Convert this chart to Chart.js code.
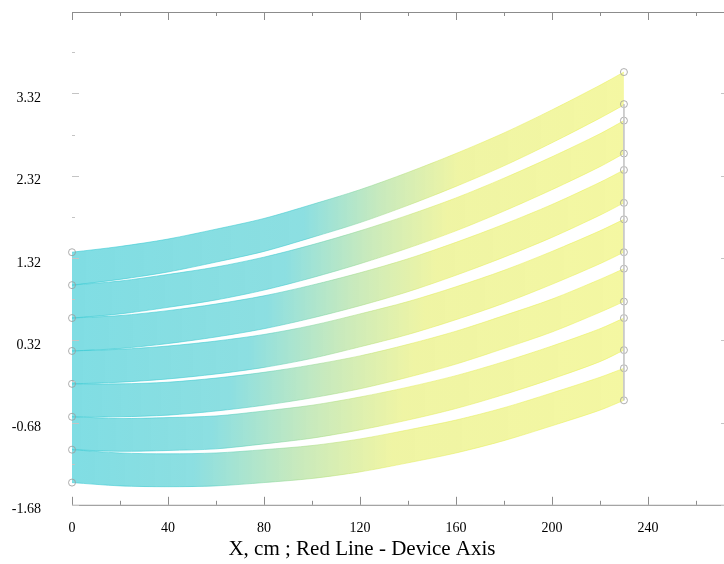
<!DOCTYPE html>
<html>
<head>
<meta charset="utf-8">
<script src="https://cdn.jsdelivr.net/npm/chart.js@4/dist/chart.umd.min.js"></script>
<style>
  html, body { margin: 0; padding: 0; background: #fff; overflow: hidden; }
  #wrap { width: 724px; height: 564px; }
</style>
</head>
<body>
<div id="wrap"><canvas id="chart-rays"></canvas></div>
<script>
const xCm = [0, 20, 40, 60, 80, 100, 120, 140, 160, 180, 200, 220, 230];

// upper / lower edge of each ray band, top band first
const band0Top = [1.39, 1.46, 1.55, 1.67, 1.80, 1.97, 2.15, 2.36, 2.59, 2.84, 3.12, 3.42, 3.58];
const band0Bot = [0.99, 1.06, 1.15, 1.27, 1.40, 1.57, 1.75, 1.96, 2.19, 2.44, 2.72, 3.02, 3.18];
const band1Top = [0.99, 1.04, 1.12, 1.21, 1.33, 1.48, 1.65, 1.84, 2.05, 2.29, 2.55, 2.83, 2.99];
const band1Bot = [0.59, 0.64, 0.72, 0.81, 0.93, 1.08, 1.25, 1.44, 1.65, 1.89, 2.15, 2.43, 2.59];
const band2Top = [0.59, 0.62, 0.68, 0.76, 0.86, 0.99, 1.14, 1.31, 1.51, 1.73, 1.97, 2.24, 2.39];
const band2Bot = [0.19, 0.22, 0.28, 0.36, 0.46, 0.59, 0.74, 0.91, 1.11, 1.33, 1.57, 1.84, 1.99];
const band3Top = [0.19, 0.21, 0.25, 0.31, 0.39, 0.50, 0.64, 0.79, 0.97, 1.17, 1.40, 1.65, 1.79];
const band3Bot = [-0.21, -0.19, -0.15, -0.09, -0.01, 0.10, 0.24, 0.39, 0.57, 0.77, 1.00, 1.25, 1.39];
const band4Top = [-0.21, -0.21, -0.19, -0.14, -0.07, 0.02, 0.13, 0.27, 0.43, 0.62, 0.82, 1.06, 1.19];
const band4Bot = [-0.61, -0.61, -0.59, -0.54, -0.47, -0.38, -0.27, -0.13, 0.03, 0.22, 0.42, 0.66, 0.79];
const band5Top = [-0.61, -0.63, -0.62, -0.60, -0.54, -0.47, -0.37, -0.25, -0.11, 0.06, 0.25, 0.46, 0.59];
const band5Bot = [-1.01, -1.03, -1.02, -1.00, -0.94, -0.87, -0.77, -0.65, -0.51, -0.34, -0.15, 0.06, 0.20];
const band6Top = [-1.01, -1.05, -1.06, -1.05, -1.01, -0.96, -0.88, -0.77, -0.65, -0.50, -0.32, -0.13, -0.02];
const band6Bot = [-1.41, -1.45, -1.46, -1.45, -1.41, -1.36, -1.28, -1.17, -1.05, -0.90, -0.72, -0.53, -0.41];

// source / target points (circles)
const leftPtsY = [1.39, 0.99, 0.59, 0.19, -0.21, -0.61, -1.01, -1.41];
const rightPtsY = [3.58, 3.19, 2.99, 2.59, 2.39, 1.99, 1.79, 1.39, 1.19, 0.79, 0.59, 0.20, -0.02, -0.41];
const screenX = 230;

// axes
const xTicks = [0, 40, 80, 120, 160, 200, 240];
const xMinorTicks = [20, 60, 100, 140, 180, 220, 260];
const yTicks = [-1.68, -0.68, 0.32, 1.32, 2.32, 3.32];
const yMinorTicks = [-1.18, -0.18, 0.82, 1.82, 2.82, 3.82];
const xMin = 0, xMax = 271.7, yMin = -1.68, yMax = 4.31;

const bands = [
  [band0Top, band0Bot], [band1Top, band1Bot], [band2Top, band2Bot], [band3Top, band3Bot],
  [band4Top, band4Bot], [band5Top, band5Bot], [band6Top, band6Bot],
];

const serif = "'Liberation Serif', 'DejaVu Serif', serif";

function toPoints(ys) {
  return ys.map((y, i) => ({ x: xCm[i], y }));
}

// cyan on the left, yellow on the right; lower bands turn yellow sooner
function rayGradient(alpha, band) {
  return (context) => {
    const chart = context.chart;
    if (!chart.chartArea) return "rgba(0,0,0,0)";
    const xs = chart.scales.x;
    const k = band / 6;
    const g = chart.ctx.createLinearGradient(xs.getPixelForValue(0), 0, xs.getPixelForValue(screenX), 0);
    g.addColorStop(0, `rgba(56,202,212,${alpha})`);
    g.addColorStop(0.42 - 0.2 * k, `rgba(66,202,206,${alpha * 0.95})`);
    g.addColorStop(0.56 - 0.15 * k, `rgba(160,218,140,${alpha * 0.9})`);
    g.addColorStop(0.7 - 0.12 * k, `rgba(226,236,88,${alpha * 0.85})`);
    g.addColorStop(1, `rgba(234,240,78,${alpha * 0.82})`);
    return g;
  };
}

// datasets are drawn highest "order" first
const datasets = [];
bands.forEach(([top, bot], k) => {
  datasets.push({
    order: 1,
    data: toPoints(top),
    borderColor: rayGradient(0.85, k),
    borderWidth: 0.7,
    backgroundColor: rayGradient(0.64, k),
    fill: "+1",
    pointRadius: 0,
    tension: 0.3,
  });
  datasets.push({
    order: 1,
    data: toPoints(bot),
    borderColor: rayGradient(0.85, k),
    borderWidth: 0.7,
    fill: false,
    pointRadius: 0,
    tension: 0.3,
  });
});

// screen line at the right end
datasets.push({
  order: 0,
  data: [{ x: screenX, y: rightPtsY[1] }, { x: screenX, y: rightPtsY[rightPtsY.length - 1] }],
  borderColor: "#c8c8c8",
  borderWidth: 1,
  pointRadius: 0,
  fill: false,
});

const circleStyle = {
  order: 0,
  showLine: false,
  pointStyle: "circle",
  pointRadius: 3.5,
  pointBorderColor: "#9a9a9a",
  pointBorderWidth: 0.8,
  pointBackgroundColor: "rgba(255,255,255,0)",
  clip: false,
};
datasets.push({ ...circleStyle, data: leftPtsY.map((y) => ({ x: 0, y })) });
datasets.push({ ...circleStyle, data: rightPtsY.map((y) => ({ x: screenX, y })) });

const frameTicks = {
  id: "frameTicks",
  afterDatasetsDraw(chart) {
    const { ctx, chartArea: a, scales } = chart;
    const xs = scales.x, ys = scales.y;
    ctx.save();
    ctx.lineWidth = 1;
    ctx.strokeStyle = "#8c8c8c";
    ctx.beginPath();
    ctx.moveTo(a.left, a.top + 0.5); ctx.lineTo(a.right, a.top + 0.5);
    ctx.moveTo(a.left, a.bottom + 0.5); ctx.lineTo(a.right, a.bottom + 0.5);
    const mark = (v, len) => {
      const px = Math.round(xs.getPixelForValue(v)) + 0.5;
      ctx.moveTo(px, a.top); ctx.lineTo(px, a.top + len);
      ctx.moveTo(px, a.bottom); ctx.lineTo(px, a.bottom - len);
    };
    xTicks.forEach((v) => mark(v, 8));
    xMinorTicks.forEach((v) => mark(v, 4));
    ctx.stroke();

    ctx.strokeStyle = "#c4c4c4";
    ctx.beginPath();
    yTicks.forEach((v) => {
      const py = Math.round(ys.getPixelForValue(v)) + 0.5;
      ctx.moveTo(a.left, py); ctx.lineTo(a.left + 7, py);
      ctx.moveTo(a.right, py); ctx.lineTo(a.right - 3, py);
    });
    yMinorTicks.forEach((v) => {
      const py = Math.round(ys.getPixelForValue(v)) + 0.5;
      ctx.moveTo(a.left, py); ctx.lineTo(a.left + 3, py);
    });
    ctx.stroke();
    ctx.restore();
  },
};

new Chart(document.getElementById("chart-rays"), {
  type: "line",
  data: { datasets },
  options: {
    responsive: true,
    maintainAspectRatio: false,
    animation: false,
    layout: { autoPadding: false, padding: { top: 12, right: 0, left: 0, bottom: 0 } },
    plugins: {
      legend: { display: false },
      tooltip: { enabled: false },
      title: {
        display: true,
        position: "bottom",
        text: "X, cm ; Red Line - Device Axis",
        color: "#000",
        font: { family: serif, size: 21, weight: "normal" },
        padding: { top: 4, bottom: 2 },
      },
    },
    scales: {
      x: {
        type: "linear",
        min: xMin,
        max: xMax,
        grid: { display: false, drawTicks: false },
        border: { display: false },
        afterBuildTicks: (s) => { s.ticks = xTicks.map((v) => ({ value: v })); },
        afterFit: (s) => {
          s.height = 28;
          s.paddingLeft = 0;
          s.paddingRight = 0;
        },
        ticks: {
          color: "#000",
          padding: 15,
          maxRotation: 0,
          font: { family: serif, size: 14 },
          callback: (v) => String(v),
        },
      },
      y: {
        type: "linear",
        min: yMin,
        max: yMax,
        grid: { display: false, drawTicks: false },
        border: { display: false },
        afterBuildTicks: (s) => { s.ticks = yTicks.map((v) => ({ value: v })); },
        afterFit: (s) => {
          s.width = 72;
          s.paddingTop = 0;
          s.paddingBottom = 0;
        },
        ticks: {
          color: "#000",
          padding: 31,
          labelOffset: 5,
          font: { family: serif, size: 14 },
          callback: (v) => Number(v).toFixed(2),
        },
      },
    },
  },
  plugins: [frameTicks],
});
</script>
</body>
</html>
